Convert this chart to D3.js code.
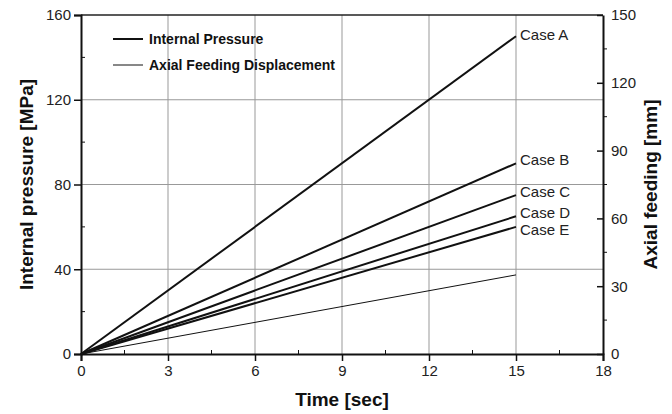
<!DOCTYPE html>
<html><head><meta charset="utf-8">
<script src="https://cdn.jsdelivr.net/npm/d3@7"></script>
<style>body{margin:0;background:#fff}text{font-family:"Liberation Sans",Arial,sans-serif}</style>
</head><body><svg id="c" width="672" height="414"></svg>
<script>
const cases = ["Case A","Case B","Case C","Case D","Case E"];
const timeStart = 0, timeEnd = 15;
const pressureEnd = [150, 90, 75, 65, 60];          // MPa at t=15
const axialEnd = 35;                                 // mm at t=15
const xTicks = [0,3,6,9,12,15,18];
const yLeftTicks = [0,40,80,120,160];
const yRightTicks = [0,30,60,90,120,150];
const labelDy = [-1, -3.5, -3, -4, 2.5];

const svg = d3.select("#c");
const L=81, R=603, T=15, B=354;
const x = d3.scaleLinear().domain([0,18]).range([L,R]);
const yL = d3.scaleLinear().domain([0,160]).range([B,T]);
const yR = d3.scaleLinear().domain([0,150]).range([B,T]);

// grid
const g = svg.append("g");
[3,6,9,12,15].forEach(v=>g.append("line").attr("x1",x(v)).attr("x2",x(v)).attr("y1",T).attr("y2",B).attr("stroke","#999").attr("stroke-width",1));
[40,80,120].forEach(v=>g.append("line").attr("x1",L).attr("x2",R).attr("y1",yL(v)).attr("y2",yL(v)).attr("stroke","#999").attr("stroke-width",1));

// frame
svg.append("line").attr("x1",L).attr("x2",R).attr("y1",T).attr("y2",T).attr("stroke","#222").attr("stroke-width",1.5);

// axes
const ax = svg.append("g").attr("transform",`translate(0,${B})`).call(d3.axisBottom(x).tickValues(xTicks).tickSize(7).tickPadding(4));
const ayl = svg.append("g").attr("transform",`translate(${L},0)`).call(d3.axisLeft(yL).tickValues(yLeftTicks).tickSize(7).tickPadding(3));
const ayr = svg.append("g").attr("transform",`translate(${R},0)`).call(d3.axisRight(yR).tickValues(yRightTicks).tickSize(0).tickPadding(8));
[ax,ayl,ayr].forEach(a=>{
  a.select(".domain").attr("stroke","#111").attr("stroke-width",2);
  a.selectAll(".tick line").attr("stroke","#111").attr("stroke-width",1.5);
  a.selectAll("text").attr("font-size",15).attr("fill","#222").style("font-family","Liberation Sans, Arial, sans-serif");
});
ayr.selectAll(".tick").append("line").attr("x1",-6).attr("x2",0).attr("stroke","#111").attr("stroke-width",1.5);
// minor ticks
d3.range(1.5,18,3).forEach(v=>svg.append("line").attr("x1",x(v)).attr("x2",x(v)).attr("y1",B).attr("y2",B-4).attr("stroke","#111"));
d3.range(20,160,40).forEach(v=>svg.append("line").attr("x1",L).attr("x2",L+4).attr("y1",yL(v)).attr("y2",yL(v)).attr("stroke","#111"));
d3.range(15,150,30).forEach(v=>svg.append("line").attr("x1",R).attr("x2",R+4).attr("y1",yR(v)).attr("y2",yR(v)).attr("stroke","#111"));

// data lines
const line = d3.line().x(d=>x(d[0]));
cases.forEach((c,i)=>{
  svg.append("path").datum([[timeStart,0],[timeEnd,pressureEnd[i]]])
    .attr("d", line.y(d=>yL(d[1]))).attr("stroke","#111").attr("stroke-width",2).attr("fill","none");
  svg.append("text").attr("x",x(timeEnd)+4).attr("y",yL(pressureEnd[i])+labelDy[i]).attr("dy","0.35em")
    .attr("font-size",15).attr("fill","#222").text(c);
});
svg.append("path").datum([[timeStart,0],[timeEnd,axialEnd]])
  .attr("d", line.y(d=>yR(d[1]))).attr("stroke","#111").attr("stroke-width",1).attr("fill","none");

// legend
const leg = [["Internal Pressure",2],["Axial Feeding Displacement",1]];
leg.forEach((d,i)=>{
  const yy = 39 + i*26;
  svg.append("line").attr("x1",113).attr("x2",143).attr("y1",yy).attr("y2",yy).attr("stroke","#111").attr("stroke-width",d[1]);
  svg.append("text").attr("x",149).attr("y",yy).attr("dy","0.35em").attr("font-size",14).attr("font-weight","bold").attr("fill","#111").text(d[0]);
});

// titles
svg.append("text").attr("x",(L+R)/2).attr("y",406).attr("text-anchor","middle").attr("font-size",19).attr("font-weight","bold").attr("fill","#111").text("Time [sec]");
svg.append("text").attr("transform",`translate(33,${(T+B)/2}) rotate(-90)`).attr("text-anchor","middle").attr("font-size",19).attr("font-weight","bold").attr("fill","#111").text("Internal pressure [MPa]");
svg.append("text").attr("transform",`translate(657,${(T+B)/2}) rotate(-90)`).attr("text-anchor","middle").attr("font-size",19).attr("font-weight","bold").attr("fill","#111").text("Axial feeding [mm]");
</script></body></html>
